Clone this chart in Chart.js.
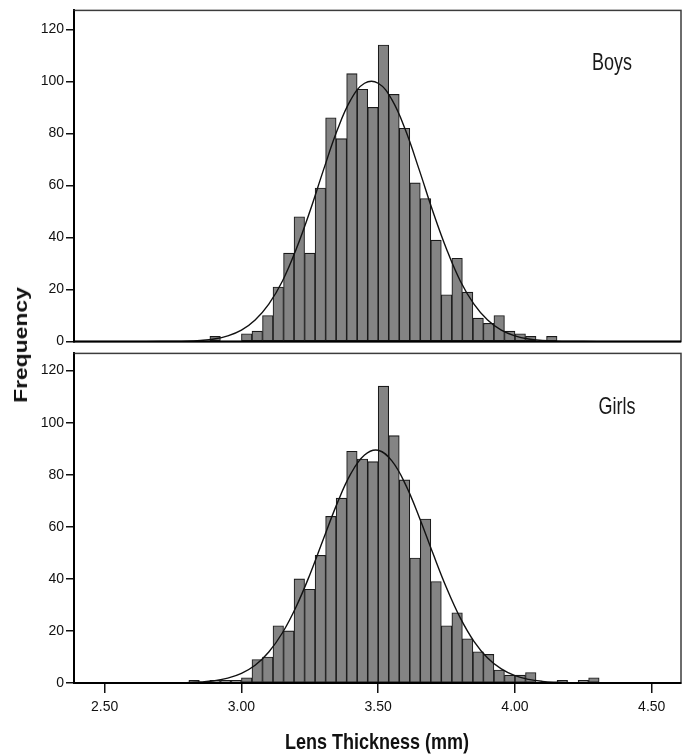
<!DOCTYPE html>
<html>
<head>
<meta charset="utf-8">
<script src="https://cdn.jsdelivr.net/npm/chart.js@4.4.0/dist/chart.umd.min.js"></script>
<style>
html,body{margin:0;padding:0;background:#fff;}
#wrap{position:relative;width:686px;height:755px;overflow:hidden;background:#fff;}
canvas{position:absolute;left:0;}
.lbl{position:absolute;font-family:'Liberation Sans',Arial,sans-serif;color:#1a1a1a;white-space:nowrap;line-height:1;}
</style>
</head>
<body>
<div id="wrap">
  <canvas id="topChart" style="top:0px" width="686" height="352"></canvas>
  <canvas id="botChart" style="top:343px" width="686" height="412"></canvas>
  <div class="lbl" style="left:612px;top:62px;font-size:18px;transform:translate(-50%,-50%) scaleY(1.3);">Boys</div>
  <div class="lbl" style="left:617px;top:406px;font-size:18px;transform:translate(-50%,-50%) scaleY(1.3);">Girls</div>
  <div class="lbl" style="left:21px;top:345px;font-size:18px;font-weight:bold;color:#111;transform:translate(-50%,-50%) rotate(-90deg) scaleX(1.27);">Frequency</div>
  <div class="lbl" style="left:377px;top:741px;font-size:18px;font-weight:bold;color:#111;transform:translate(-50%,-50%) scaleY(1.25);">Lens Thickness (mm)</div>
</div>
<script>
// Histogram bin centres (lens thickness, mm)
const binCenters = [2.8269, 2.8654, 2.9038, 2.9423, 2.9808, 3.0192, 3.0577, 3.0962, 3.1346, 3.1731,
                    3.2115, 3.2500, 3.2885, 3.3269, 3.3654, 3.4038, 3.4423, 3.4808, 3.5192, 3.5577,
                    3.5962, 3.6346, 3.6731, 3.7115, 3.7500, 3.7885, 3.8269, 3.8654, 3.9038, 3.9423,
                    3.9808, 4.0192, 4.0577, 4.0962, 4.1346, 4.1731, 4.2115, 4.2500, 4.2885, 4.3269];
// Frequencies per bin
const boysCounts  = [0, 0, 2, 0, 0, 3, 4, 10, 21, 34,
                     48, 34, 59, 86, 78, 103, 97, 90, 114, 95,
                     82, 61, 55, 39, 18, 32, 19, 9, 7, 10,
                     4, 3, 2, 0, 2, 0, 0, 0, 0, 0];
const girlsCounts = [1, 0, 1, 1, 1, 2, 9, 10, 22, 20,
                     40, 36, 49, 64, 71, 89, 86, 85, 114, 95,
                     78, 48, 63, 39, 22, 27, 17, 12, 11, 5,
                     3, 3, 4, 0, 0, 1, 0, 1, 2, 0];
// Fitted normal curves
const curveX     = [2.60, 2.70, 2.80, 2.85, 2.90, 2.95, 3.00, 3.05, 3.10, 3.15, 3.20, 3.25, 3.30, 3.35, 3.40, 3.45,
                    3.50, 3.55, 3.60, 3.65, 3.70, 3.75, 3.80, 3.85, 3.90, 3.95, 4.00, 4.05, 4.10, 4.15, 4.20, 4.30];
const boysCurve  = [0.0, 0.02, 0.18, 0.45, 1.0, 2.2, 4.4, 8.3, 14.4, 23.3, 35.5, 50.0, 66.0, 81.2, 93.0, 99.3,
                    99.3, 93.0, 81.2, 66.0, 50.0, 35.5, 23.3, 14.4, 8.3, 4.4, 2.2, 1.0, 0.45, 0.18, 0.07, 0.0];
const girlsCurve = [0.0, 0.02, 0.16, 0.39, 0.88, 1.87, 3.7, 6.8, 11.9, 19.3, 29.3, 41.6, 55.4, 69.0, 80.4, 87.6,
                    89.4, 85.3, 76.2, 63.7, 49.8, 36.5, 25.0, 16.0, 9.6, 5.4, 2.8, 1.4, 0.64, 0.28, 0.11, 0.01];
// Axis ticks
const xTickValues = [2.50, 3.00, 3.50, 4.00, 4.50];
const yTickValues = [0, 20, 40, 60, 80, 100, 120];

const FONT = "'Liberation Sans', Arial, sans-serif";

const framePlugin = {
  id: 'frame',
  afterDatasetsDraw(chart) {
    const {ctx, chartArea: a} = chart;
    ctx.save();
    ctx.strokeStyle = '#3c3c3c';
    ctx.lineWidth = 1.5;
    ctx.strokeRect(a.left, a.top, a.right - a.left, a.bottom - a.top);
    ctx.strokeStyle = '#000';
    ctx.lineWidth = 2;
    ctx.beginPath();
    ctx.moveTo(a.left, a.top);
    ctx.lineTo(a.left, a.bottom);
    ctx.lineTo(a.right, a.bottom);
    ctx.stroke();
    ctx.restore();
  }
};

function makeChart(id, counts, curve, yMax, showX, padding) {
  const bars = binCenters.map((c, i) => ({x: c, y: counts[i] === 0 ? null : counts[i]}));
  const line = curveX.map((x, i) => ({x: x, y: curve[i]}));
  return new Chart(document.getElementById(id), {
    type: 'bar',
    data: {
      datasets: [
        {
          type: 'line',
          data: line,
          borderColor: '#111',
          borderWidth: 1.4,
          pointRadius: 0,
          fill: false,
          tension: 0.4,
          order: 0
        },
        {
          type: 'bar',
          data: bars,
          backgroundColor: '#848484',
          borderColor: '#1a1a1a',
          borderWidth: 1.1,
          borderSkipped: false,
          barPercentage: 1,
          categoryPercentage: 1,
          grouped: false,
          order: 1
        }
      ]
    },
    options: {
      responsive: false,
      animation: false,
      devicePixelRatio: 1,
      layout: {padding: padding},
      plugins: {legend: {display: false}, tooltip: {enabled: false}},
      scales: {
        x: {
          type: 'linear',
          min: 2.3878,
          max: 4.607,
          offset: false,
          display: showX,
          afterBuildTicks: axis => { axis.ticks = xTickValues.map(v => ({value: v})); },
          afterFit: axis => { if (showX) axis.height = 72; },
          grid: {drawOnChartArea: false, drawTicks: true, tickLength: 10, color: '#111', lineWidth: 1.5, offset: false},
          border: {display: true, color: '#000', width: 2},
          ticks: {
            padding: 6,
            color: '#111',
            font: {family: FONT, size: 14},
            maxRotation: 0,
            callback: v => Number(v).toFixed(2)
          }
        },
        y: {
          type: 'linear',
          min: 0,
          max: yMax,
          afterBuildTicks: axis => { axis.ticks = yTickValues.map(v => ({value: v})); },
          afterFit: axis => { axis.width = 74; },
          grid: {drawOnChartArea: false, drawTicks: true, tickLength: 8, color: '#111', lineWidth: 1.5},
          border: {display: true, color: '#000', width: 2},
          ticks: {
            padding: 2,
            color: '#111',
            font: {family: FONT, size: 14}
          }
        }
      }
    },
    plugins: [framePlugin]
  });
}

makeChart('topChart', boysCounts, boysCurve, 127.3, false, {top: 8, right: 5, bottom: 10, left: 0});
makeChart('botChart', girlsCounts, girlsCurve, 126.6, true, {top: 8, right: 5, bottom: 0, left: 0});
</script>
</body>
</html>
